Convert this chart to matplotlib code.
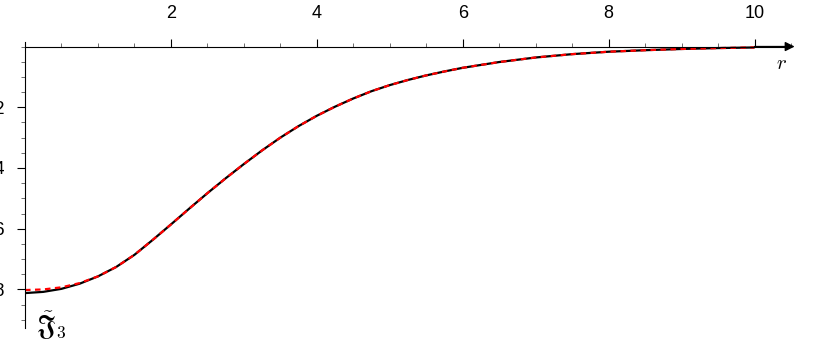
import matplotlib
matplotlib.use("Agg")
import matplotlib.pyplot as plt
from matplotlib.ticker import MultipleLocator, FuncFormatter

plt.rcParams['font.family'] = ['Liberation Sans', 'DejaVu Sans']
plt.rcParams['mathtext.fontset'] = 'cm'

# dados
r = [0, 0.25, 0.5, 0.75, 1, 1.25, 1.5, 1.75, 2, 2.25, 2.5, 2.75, 3, 3.25,
     3.5, 3.75, 4, 4.25, 4.5, 4.75, 5, 5.25, 5.5, 5.75, 6, 6.5, 7, 7.5,
     8, 8.5, 9, 9.5, 10]
j3_exato = [-0.812, -0.808, -0.798, -0.781, -0.757, -0.726, -0.686, -0.637,
            -0.586, -0.534, -0.483, -0.434, -0.387, -0.342, -0.300, -0.262,
            -0.228, -0.198, -0.171, -0.147, -0.127, -0.110, -0.095, -0.082,
            -0.070, -0.051, -0.036, -0.025, -0.017, -0.012, -0.008, -0.005,
            -0.003]
j3_aprox = [-0.802, -0.800, -0.793, -0.779, -0.757, -0.726, -0.686, -0.637,
            -0.586, -0.534, -0.483, -0.434, -0.387, -0.342, -0.300, -0.262,
            -0.228, -0.198, -0.171, -0.147, -0.127, -0.110, -0.095, -0.082,
            -0.070, -0.051, -0.036, -0.025, -0.017, -0.012, -0.008, -0.005,
            -0.003]
xticks = [2, 4, 6, 8, 10]
yticks = [-0.2, -0.4, -0.6, -0.8]

fig = plt.figure(figsize=(8.17, 3.54), dpi=100)
ax = fig.add_axes([25 / 817, 26 / 354, 766 / 817, 286 / 354])

ax.plot(r, j3_exato, color='black', linewidth=1.6, solid_capstyle='butt')
ax.plot(r, j3_aprox, color='red', linewidth=1.6, linestyle=(0, (2.5, 2)))

ax.set_xlim(0, 10.5)
ax.set_ylim(-0.927, 0.015)

# eixos estilo "cruz" com o eixo x em y=0
ax.spines['bottom'].set_visible(False)
ax.spines['right'].set_visible(False)
ax.spines['top'].set_position(('data', 0))
ax.spines['top'].set_bounds(0, 10.4)
ax.spines['left'].set_bounds(-0.927, 0.015)
ax.xaxis.tick_top()
ax.annotate('', xy=(10.55, 0), xytext=(10.0, 0),
            arrowprops=dict(arrowstyle='-|>', color='black', lw=1,
                            mutation_scale=14, shrinkA=0, shrinkB=0),
            annotation_clip=False)

ax.set_xticks(xticks)
ax.set_yticks(yticks)
ax.xaxis.set_minor_locator(MultipleLocator(0.5))
ax.yaxis.set_minor_locator(MultipleLocator(0.05))
ax.yaxis.set_major_formatter(FuncFormatter(lambda v, pos: f'\u2212{abs(v):.1f}'))
ax.tick_params(axis='x', which='major', direction='out', length=6, width=0.8,
               pad=12, labelsize=13)
ax.tick_params(axis='y', which='major', direction='out', length=6, width=0.8,
               pad=8.5, labelsize=13)
ax.tick_params(which='minor', direction='out', length=3, width=0.6, color='#555555')

ax.text(10.37, -0.055, r'$r$', fontsize=15, ha='center', va='center')
ax.text(0.36, -0.918, r'$\tilde{\mathfrak{J}}_3$', fontsize=18, ha='center', va='center')

fig.savefig('out.png', dpi=100)
